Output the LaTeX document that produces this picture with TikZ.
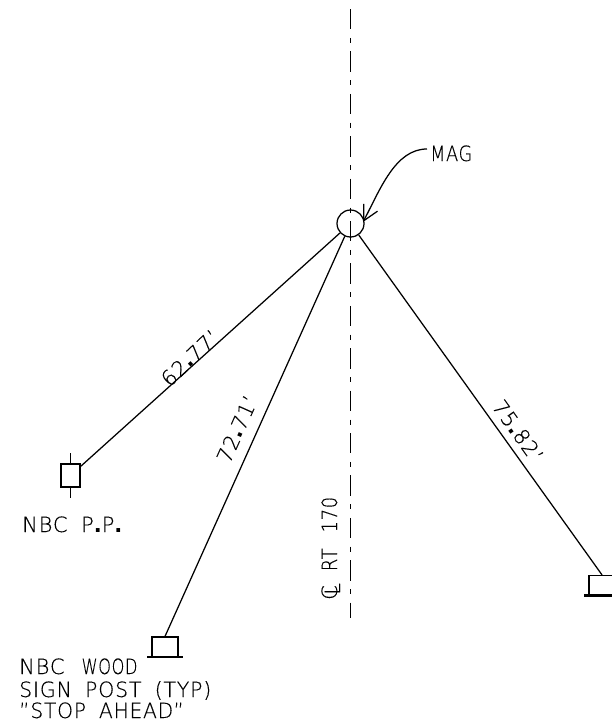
\documentclass[tikz,border=0pt]{standalone}
\usepackage{fontspec}
\setmainfont{DejaVu Sans ExtraLight}[Ligatures=NoCommon,LetterSpace=4,WordSpace=1.8,FakeBold=0.3]
\newfontfamily\bdfont{DejaVu Sans Bold}
\newcommand{\dt}{{\bdfont .}}
\usetikzlibrary{arrows.meta}
\tikzset{
  cad/.style={line width=1.25pt,line cap=butt,black},
  label text/.style={font=\fontsize{21}{22}\selectfont,inner sep=0pt,anchor=base west},
  dim text/.style={font=\fontsize{21}{22}\selectfont,inner sep=0pt},
  post/.style={draw,line width=1.25pt,inner sep=0pt,minimum width=26pt,minimum height=20pt},
  pole/.style={draw,line width=1.25pt,inner sep=0pt,minimum width=19pt,minimum height=23pt},
  mark circle/.style={draw,circle,line width=1.25pt,inner sep=0pt,minimum size=27pt},
  center line/.style={line width=1.25pt,dash pattern=on 20.4pt off 8.5pt on 5pt off 8.5pt},
  base bar/.style={line width=2.2pt},
}
\begin{document}
\begin{tikzpicture}[x=1pt,y=-1pt]
\useasboundingbox (0,0) rectangle (612,723);
% centre line
\coordinate (cltop) at (350.5,9);
\coordinate (clbot) at (350.5,618);
\draw[center line] (cltop) -- (clbot);
% monument
\node[mark circle] (mag) at (350.5,223.5) {};
% objects
\node[pole] (pp) at (70.5,475.5) {};
\node[post] (sign) at (165,647) {};
\node[post] (stop) at (602,585.5) {};
% pole stem
\coordinate (pptop) at (70.5,453);
\coordinate (ppbot) at (70.5,498);
\draw[cad] (pptop) -- (pp.north);
\draw[cad] (pp.south) -- (ppbot);
% base bars
\coordinate (signbl) at (147,657);
\coordinate (signbr) at (183,657);
\coordinate (stopbl) at (584,595.5);
\coordinate (stopbr) at (625,595.5);
\draw[base bar] (signbl) -- (signbr);
\draw[base bar] (stopbl) -- (stopbr);
% ties
\draw[cad] (mag) -- (pp);
\draw[cad] (mag) -- (sign.north);
\draw[cad] (mag) -- (stop.north);
% MAG leader
\node[label text] (magtext) at (430,161) {\scalebox{0.84}[1]{MAG}};
\coordinate (tip) at (363,222);
\draw[cad,-{Straight Barb[length=15pt,width=15.5pt,line width=1.25pt]}]
  (427,149) .. controls (395,149) and (380,190) .. (tip);
% dimensions
\node[dim text,rotate=43.4] (d1) at (190,358) {62\dt 77'};
\node[dim text,rotate=66] (d2) at (237,429) {72\dt 71'};
\node[dim text,rotate=-54.4] (d3) at (518,431) {75\dt 82'};
% labels
\node[label text] (l1) at (22,532) {NBC  P\dt P\dt};
\node[label text] (l2) at (19,674) {NBC\kern17pt\scalebox{0.77}[1]{WOOD}};
\node[label text] (l3) at (19,697) {\scalebox{0.975}[1]{SIGN POST (TYP)}};
\node[label text] (l4) at (19,718) {\scalebox{0.96}[1]{"STOP AHEAD"}};
\node[label text,rotate=90] (cl) at (337,600) {\rlap{C}\kern5pt\raisebox{-3pt}{L}\kern12pt\scalebox{0.85}[1]{RT}\kern16pt\scalebox{0.85}[1]{170}};
\end{tikzpicture}
\end{document}
